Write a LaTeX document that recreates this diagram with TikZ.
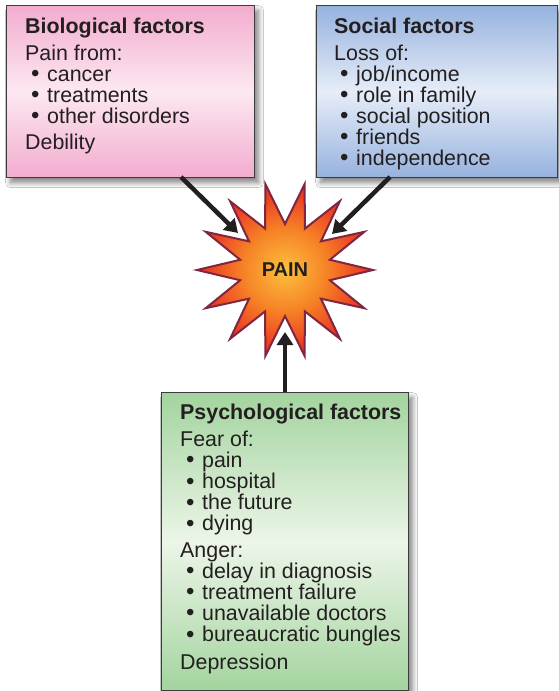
\documentclass[tikz,border=0pt]{standalone}
\usepackage{fontspec}
\setmainfont{Liberation Sans}
\usetikzlibrary{arrows.meta,shadows.blur}
\definecolor{textc}{RGB}{35,31,32}
\definecolor{boxline}{RGB}{60,60,60}
\definecolor{pinkA}{RGB}{243,172,206}
\definecolor{pinkB}{RGB}{252,232,242}
\definecolor{blueA}{RGB}{150,178,222}
\definecolor{blueB}{RGB}{230,237,248}
\definecolor{greenA}{RGB}{163,212,158}
\definecolor{greenB}{RGB}{236,245,232}
\definecolor{starline}{RGB}{128,38,62}
\definecolor{painin}{RGB}{252,192,62}
\definecolor{painmid}{RGB}{246,130,38}
\definecolor{painred}{RGB}{236,62,36}
\definecolor{painout}{RGB}{228,28,38}
\pgfdeclareradialshading{painshade}{\pgfpoint{0bp}{0bp}}{color(0bp)=(painin); color(12bp)=(painmid); color(22bp)=(painred); color(32bp)=(painout); color(50bp)=(painout)}
\newcommand\bul[1]{\makebox[16pt][l]{\raisebox{-0.6pt}{\fontsize{24}{21}\selectfont •}}#1}
\begin{document}
\begin{tikzpicture}[x=1pt,y=-1pt,
  factorbox/.style={draw=boxline, line width=1.2pt, anchor=north west, inner sep=0pt,
    blur shadow={shadow xshift=4pt, shadow yshift=-5pt, shadow blur radius=5pt, shadow opacity=50, shadow blur steps=10}},
  txt/.style={anchor=base west, inner sep=0pt, text=textc, text height=14pt, text depth=3pt,
    font=\fontsize{21.4}{21}\selectfont},
  hd/.style={txt, font=\fontsize{21.4}{21}\selectfont\bfseries},
  arr/.style={draw=textc, line width=4.5pt, -{Triangle[length=13pt,width=16pt]}}]
\useasboundingbox (0,0) rectangle (559,691);
\fill[white] (0,0) rectangle (559,691);

% boxes
\node[factorbox, minimum width=248pt, minimum height=172pt,
  top color=pinkA, bottom color=pinkA, middle color=pinkB] (bio) at (6,5) {};
\node[factorbox, minimum width=241pt, minimum height=172pt,
  top color=blueA, bottom color=blueA, middle color=blueB] (soc) at (316,5) {};
\node[factorbox, minimum width=247pt, minimum height=298pt,
  top color=greenA, bottom color=greenA, middle color=greenB] (psy) at (161,392) {};

% biological text
\node[hd] (b0) at (25,33) {Biological factors};
\node[txt] (b1) at (25,60) {Pain from:};
\node[txt] (b2) at (31,81) {\bul{cancer}};
\node[txt] (b3) at (31,102) {\bul{treatments}};
\node[txt] (b4) at (31,123) {\bul{other disorders}};
\node[txt] (b5) at (25,149) {Debility};

% social text
\node[hd] (s0) at (334,33) {Social factors};
\node[txt] (s1) at (334,60) {Loss of:};
\node[txt] (s2) at (340,81) {\bul{job/income}};
\node[txt] (s3) at (340,102) {\bul{role in family}};
\node[txt] (s4) at (340,123) {\bul{social position}};
\node[txt] (s5) at (340,144) {\bul{friends}};
\node[txt] (s6) at (340,165) {\bul{independence}};

% psychological text
\node[hd] (p0) at (180,419) {Psychological factors};
\node[txt] (p1) at (180,446) {Fear of:};
\node[txt] (p2) at (186,467) {\bul{pain}};
\node[txt] (p3) at (186,488.5) {\bul{hospital}};
\node[txt] (p4) at (186,509.5) {\bul{the future}};
\node[txt] (p5) at (186,530.5) {\bul{dying}};
\node[txt] (p6) at (180,557) {Anger:};
\node[txt] (p7) at (186,578) {\bul{delay in diagnosis}};
\node[txt] (p8) at (186,599) {\bul{treatment failure}};
\node[txt] (p9) at (186,620) {\bul{unavailable doctors}};
\node[txt] (p10) at (186,641.5) {\bul{bureaucratic bungles}};
\node[txt] (p11) at (180,669) {Depression};

% star
\begin{scope}[shift={(285,270)}]
\shadedraw[shading=painshade, draw=starline, line width=2pt, line join=miter]
  (0:88) \foreach \k in {1,...,13} { -- ({\k*25.7143-12.857}:46) -- ({\k*25.7143}:88) } -- (347.143:46) -- cycle;
\end{scope}
\node[inner sep=0pt, text=textc, font=\fontsize{20}{20}\selectfont\bfseries] (pain) at (285,270) {PAIN};

% arrow ends
\coordinate (bioS) at (181,177);
\coordinate (bioT) at (238,233);
\coordinate (socS) at (390,177);
\coordinate (socT) at (332,234);
\coordinate (psyS) at (285,392);
\coordinate (psyT) at (285,332);
\draw[arr] (bioS) -- (bioT);
\draw[arr] (socS) -- (socT);
\draw[arr] (psyS) -- (psyT);
\end{tikzpicture}
\end{document}
